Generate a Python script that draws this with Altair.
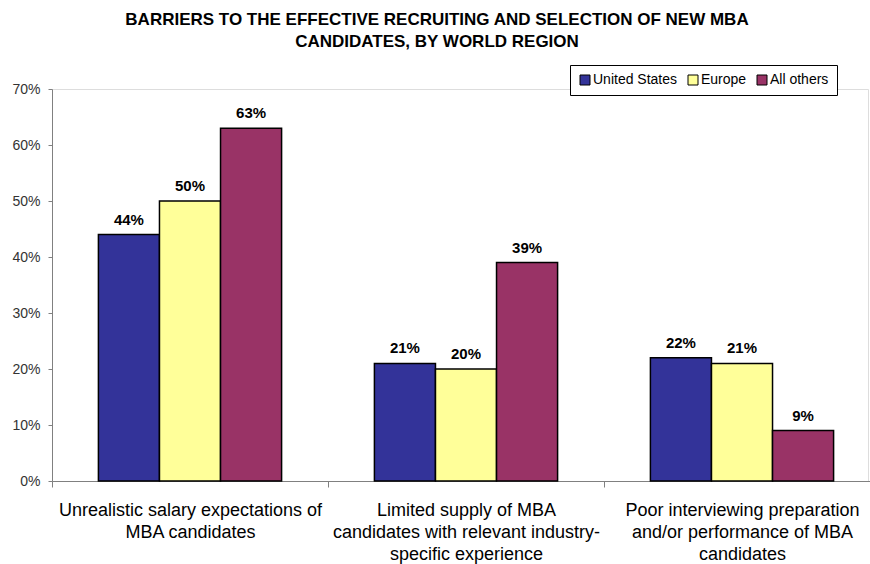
import altair as alt
import pandas as pd

# Barriers to recruiting new MBA candidates, share of respondents by region
categories = [
    "Unrealistic salary expectations of|MBA candidates",
    "Limited supply of MBA|candidates with relevant industry-|specific experience",
    "Poor interviewing preparation|and/or performance of MBA|candidates",
]
regions = ["United States", "Europe", "All others"]
united_states = [0.44, 0.21, 0.22]
europe = [0.50, 0.20, 0.21]
all_others = [0.63, 0.39, 0.09]
region_colors = ["#333399", "#FFFF99", "#993366"]

rows = []
for i, cat in enumerate(categories):
    for region, series in zip(regions, [united_states, europe, all_others]):
        rows.append({"barrier": cat, "region": region, "share": series[i]})
df = pd.DataFrame(rows)

FONT = "Liberation Sans, Arial, sans-serif"

x_enc = alt.X(
    "barrier:N",
    sort=categories,
    scale=alt.Scale(range=[0, 828], paddingInner=0, paddingOuter=0),
    axis=alt.Axis(
        title=None,
        labelAngle=0,
        labelExpr="split(datum.label, '|')",
        labelFont=FONT,
        labelFontSize=18,
        labelLineHeight=22,
        labelColor="#000000",
        labelPadding=14,
        labelBaseline="top",
        tickBand="extent",
        tickSize=6,
        tickColor="#808080",
        domainColor="#808080",
        labelLimit=400,
    ),
)
xoff_enc = alt.XOffset(
    "region:N",
    sort=regions,
    scale=alt.Scale(paddingInner=0, paddingOuter=0.76),
)
y_enc = alt.Y(
    "share:Q",
    scale=alt.Scale(domain=[0, 0.7], nice=False),
    axis=alt.Axis(
        title=None,
        format=".0%",
        values=[0, 0.1, 0.2, 0.3, 0.4, 0.5, 0.6, 0.7],
        grid=False,
        labelFont=FONT,
        labelFontSize=14,
        labelColor="#333333",
        labelPadding=8,
        tickSize=4,
        tickColor="#808080",
        domainColor="#808080",
    ),
)

bars = alt.Chart(df).mark_bar(stroke="#000000", strokeWidth=1.5).encode(
    x=x_enc,
    xOffset=xoff_enc,
    y=y_enc,
    color=alt.Color(
        "region:N",
        sort=regions,
        scale=alt.Scale(domain=regions, range=region_colors),
        legend=alt.Legend(
            title=None,
            orient="none",
            legendX=518,
            legendY=-24,
            direction="horizontal",
            symbolType="square",
            symbolSize=100,
            symbolStrokeColor="#000000",
            symbolStrokeWidth=1,
            symbolOpacity=1,
            labelFont=FONT,
            labelFontSize=14,
            labelColor="#000000",
            labelOffset=1,
            columnPadding=8,
            padding=8,
            fillColor="#FFFFFF",
            strokeColor="#000000",
        ),
    ),
)

labels = alt.Chart(df).mark_text(
    font=FONT, fontSize=15, fontWeight="bold", color="#000000",
    baseline="alphabetic", dy=-10,
).encode(
    x=alt.X("barrier:N", sort=categories),
    xOffset=alt.XOffset("region:N", sort=regions),
    y="share:Q",
    text=alt.Text("share:Q", format=".0%"),
)

chart = (
    alt.layer(bars, labels)
    .properties(
        width=816,
        height=392,
        title=alt.TitleParams(
            text=[
                "BARRIERS TO THE EFFECTIVE RECRUITING AND SELECTION OF NEW MBA",
                "CANDIDATES, BY WORLD REGION",
            ],
            font=FONT,
            fontSize=17,
            fontWeight="bold",
            color="#000000",
            lineHeight=22,
            anchor="middle",
            dx=-23,
            offset=14,
        ),
        autosize=alt.AutoSizeParams(type="none"),
        padding={"left": 52, "top": 89, "right": 2, "bottom": 83},
    )
    .configure_view(stroke=None)
    .configure(background="#FFFFFF")
)

chart.save("out.html", embed_options={"renderer": "svg", "actions": False})
